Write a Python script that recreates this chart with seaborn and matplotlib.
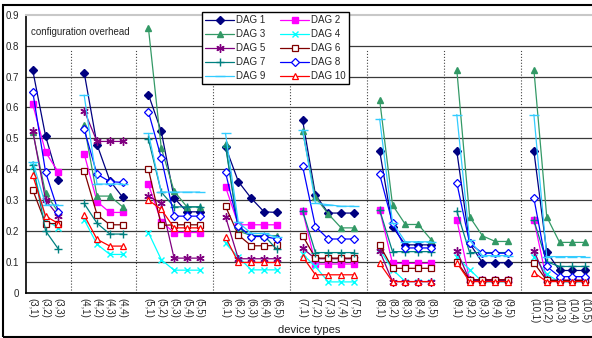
import matplotlib
matplotlib.use("Agg")
import matplotlib.pyplot as plt
import numpy as np
import pandas as pd
import seaborn as sns

# device type groups and categories
groups = [3, 3, 3, 4, 4, 4, 4] + [g for g in range(5, 11) for _ in range(5)]
subs = [1, 2, 3, 1, 2, 3, 4] + [s for _ in range(5, 11) for s in range(1, 6)]
labels = [f"({g},{s})" for g, s in zip(groups, subs)]

dag1 = [0.72, 0.507, 0.365, 0.713, 0.48, 0.363, 0.309, 0.642, 0.523, 0.307, 0.262, 0.262,
        0.473, 0.36, 0.306, 0.262, 0.26, 0.559, 0.317, 0.258, 0.258, 0.258,
        0.459, 0.214, 0.155, 0.155, 0.155, 0.459, 0.16, 0.097, 0.097, 0.097,
        0.459, 0.132, 0.072, 0.072, 0.072]
dag2 = [0.61, 0.455, 0.39, 0.45, 0.295, 0.26, 0.26, 0.351, 0.23, 0.195, 0.195, 0.195,
        0.343, 0.22, 0.22, 0.22, 0.22, 0.266, 0.093, 0.093, 0.093, 0.093,
        0.268, 0.095, 0.095, 0.095, 0.095, 0.237, 0.042, 0.042, 0.042, 0.042,
        0.237, 0.04, 0.04, 0.04, 0.04]
dag3 = [0.52, 0.322, 0.26, 0.543, 0.313, 0.313, 0.278, 0.858, 0.469, 0.329, 0.278, 0.278,
        0.483, 0.2, 0.185, 0.185, 0.185, 0.523, 0.309, 0.255, 0.21, 0.21,
        0.624, 0.284, 0.221, 0.221, 0.172, 0.723, 0.246, 0.184, 0.166, 0.166,
        0.723, 0.246, 0.163, 0.163, 0.163]
dag4 = [0.41, 0.235, 0.21, 0.237, 0.157, 0.124, 0.124, 0.195, 0.107, 0.073, 0.073, 0.073,
        0.16, 0.115, 0.074, 0.074, 0.074, 0.125, 0.085, 0.035, 0.035, 0.035,
        0.14, 0.075, 0.036, 0.036, 0.036, 0.115, 0.075, 0.035, 0.035, 0.035,
        0.117, 0.06, 0.035, 0.035, 0.035]
dag5 = [0.525, 0.30, 0.248, 0.59, 0.49, 0.49, 0.49, 0.312, 0.291, 0.112, 0.112, 0.112,
        0.246, 0.11, 0.11, 0.11, 0.11, 0.144, 0.11, 0.11, 0.11, 0.11,
        0.135, 0.036, 0.036, 0.036, 0.036, 0.136, 0.04, 0.04, 0.04, 0.04,
        0.136, 0.04, 0.04, 0.04, 0.04]
dag6 = [0.333, 0.224, 0.224, 0.395, 0.253, 0.22, 0.22, 0.40, 0.218, 0.22, 0.22, 0.22,
        0.28, 0.187, 0.152, 0.152, 0.153, 0.185, 0.112, 0.112, 0.112, 0.112,
        0.154, 0.079, 0.079, 0.079, 0.079, 0.10, 0.042, 0.042, 0.042, 0.042,
        0.097, 0.04, 0.04, 0.04, 0.04]
dag7 = [0.415, 0.20, 0.141, 0.289, 0.225, 0.19, 0.19, 0.497, 0.326, 0.278, 0.278, 0.278,
        0.475, 0.21, 0.185, 0.185, 0.14, 0.266, 0.13, 0.13, 0.13, 0.13,
        0.268, 0.133, 0.133, 0.133, 0.133, 0.265, 0.13, 0.13, 0.13, 0.13,
        0.235, 0.10, 0.085, 0.085, 0.085]
dag8 = [0.651, 0.39, 0.262, 0.529, 0.384, 0.36, 0.357, 0.586, 0.437, 0.248, 0.248, 0.248,
        0.39, 0.216, 0.182, 0.182, 0.174, 0.41, 0.214, 0.174, 0.174, 0.174,
        0.383, 0.225, 0.145, 0.145, 0.145, 0.356, 0.16, 0.128, 0.128, 0.128,
        0.306, 0.085, 0.052, 0.052, 0.052]
dag9 = [0.424, 0.284, 0.284, 0.64, 0.352, 0.352, 0.352, 0.516, 0.326, 0.326, 0.326, 0.326,
        0.516, 0.228, 0.192, 0.192, 0.18, 0.527, 0.29, 0.285, 0.28, 0.28,
        0.562, 0.227, 0.165, 0.165, 0.165, 0.577, 0.17, 0.12, 0.12, 0.12,
        0.577, 0.117, 0.117, 0.117, 0.117]
dag10 = [0.38, 0.248, 0.224, 0.251, 0.173, 0.151, 0.151, 0.30, 0.27, 0.21, 0.21, 0.21,
         0.18, 0.098, 0.098, 0.098, 0.098, 0.117, 0.058, 0.058, 0.058, 0.058,
         0.095, 0.036, 0.036, 0.036, 0.036, 0.097, 0.036, 0.036, 0.036, 0.036,
         0.065, 0.036, 0.036, 0.036, 0.036]

series = [dag1, dag2, dag3, dag4, dag5, dag6, dag7, dag8, dag9, dag10]
names = [f"DAG {i}" for i in range(1, 11)]
colors = ['#000080', '#FF00FF', '#339966', '#00FFFF', '#800080',
          '#800000', '#008080', '#0000FF', '#33CCFF', '#FF0000']
# marker, filled, size
styles = [('D', True, 4), ('s', True, 4.5), ('^', True, 5), ('x', True, 5), ((6, 2, 0), True, 6),
          ('s', False, 4.5), ('+', True, 6), ('D', False, 4), ('_', True, 7), ('^', False, 5)]

# x slot positions: one empty slot between device groups
group_order = sorted(set(groups))
pos = [i + group_order.index(g) for i, g in enumerate(groups)]
seps = [p + 1 for i, p in enumerate(pos[:-1]) if groups[i + 1] != groups[i]]

df = pd.concat([pd.DataFrame({'pos': pos, 'value': vals, 'group': groups, 'dag': name})
                for name, vals in zip(names, series)])

sns.set_style("white")
plt.rcParams['font.family'] = ['Liberation Sans', 'DejaVu Sans']

fig = plt.figure(figsize=(5.92, 3.38), dpi=100)
ax = fig.add_axes([0.0445, 0.134, 0.955, 0.822])

for gy in np.arange(0.1, 0.85, 0.1):
    ax.axhline(gy, color='#3a3a3a', lw=0.9, zorder=0)
for sx in seps:
    ax.plot([sx, sx], [0, 0.785], color='#444444', lw=0.8, ls=':', zorder=0)

for name, c, (m, filled, ms) in zip(names, colors, styles):
    sub = df[df['dag'] == name]
    sns.lineplot(data=sub, x='pos', y='value', units='group', estimator=None, ax=ax,
                 color=c, lw=0.9, marker=m, markersize=ms,
                 markerfacecolor=c if filled else 'white', markeredgecolor=c,
                 markeredgewidth=1.0 if filled else 0.9, label=name)

ax.set_xlim(-0.5, max(pos) + 0.5)
ax.set_ylim(0, 0.9)
ax.set_yticks(np.arange(0, 0.95, 0.1))
ax.set_yticklabels(['0'] + [f"{v:.1f}" for v in np.arange(0.1, 0.95, 0.1)], fontsize=7)
ax.set_xticks(pos)
ax.set_xticklabels(labels, rotation=270, fontsize=7)
ax.set_xticks(np.arange(-0.5, max(pos) + 1, 1), minor=True)
ax.tick_params(axis='x', which='major', length=0, pad=4)
ax.tick_params(axis='x', which='minor', direction='inout', length=6, width=1, color='black')
ax.tick_params(axis='y', direction='inout', length=6, width=1, color='black', pad=2)
ax.set_xlabel('device types', fontsize=8, labelpad=1)
ax.set_ylabel('')

for s in ['left', 'bottom']:
    ax.spines[s].set_color('black')
    ax.spines[s].set_linewidth(1.2)
ax.spines['top'].set_color('#c8c8c8')
ax.spines['top'].set_linewidth(1.5)
ax.spines['right'].set_visible(False)

ax.text(0.009, 0.955, 'configuration overhead', transform=ax.transAxes, fontsize=7,
        va='top', ha='left')

# legend filled row by row: DAG 1 | DAG 2, DAG 3 | DAG 4, ...
handles, labs = ax.get_legend_handles_labels()
uniq = dict(zip(labs, handles))
leg_order = names[0::2] + names[1::2]
leg = ax.legend([uniq[n] for n in leg_order], leg_order, ncol=2, loc='upper left',
                bbox_to_anchor=(202 / 592, 1 - 12 / 338), bbox_transform=fig.transFigure,
                fontsize=7, frameon=True, fancybox=False, edgecolor='black',
                framealpha=1, handlelength=3.0, labelspacing=0.42, columnspacing=1.5,
                borderpad=0.3, handletextpad=0.2, borderaxespad=0)
leg.get_frame().set_linewidth(1.0)

# outer chart border
fig.add_artist(plt.Rectangle((3 / 592, 1.5 / 338), 1.1, 1 - 6.5 / 338, transform=fig.transFigure,
                             fill=False, edgecolor='black', lw=1.5))

fig.savefig('out.png', dpi=100)
